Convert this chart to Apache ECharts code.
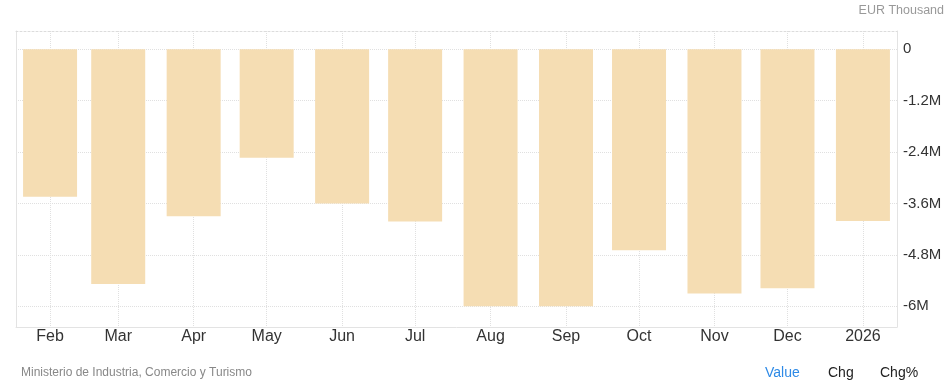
<!DOCTYPE html>
<html>
<head>
<meta charset="utf-8">
<script src="https://cdn.jsdelivr.net/npm/echarts@6/dist/echarts.min.js"></script>
<style>
html,body{margin:0;padding:0;background:#fff;}
#chart{width:952px;height:391px;}
</style>
</head>
<body>
<div id="chart"></div>
<script>
// Data (EUR Thousand)
const dates = ['2025-02-01','2025-03-01','2025-04-01','2025-05-01','2025-06-01','2025-07-01','2025-08-01','2025-09-01','2025-10-01','2025-11-01','2025-12-01','2026-01-01'];
const values = [-3440000,-5480000,-3900000,-2530000,-3600000,-4020000,-6000000,-6000000,-4690000,-5700000,-5580000,-4010000];
const monthNames = ['2026','Feb','Mar','Apr','May','Jun','Jul','Aug','Sep','Oct','Nov','Dec'];
const yTicks = [0,-1200000,-2400000,-3600000,-4800000,-6000000];
const unitLabel = 'EUR Thousand';
const sourceLabel = 'Ministerio de Industria, Comercio y Turismo';
const tabs = ['Value','Chg','Chg%'];

function toLocal(s){const p=s.split('-').map(Number);return new Date(p[0],p[1]-1,p[2]).getTime();}
const seriesData = dates.map((d,i)=>[toLocal(d), values[i]]);

const chart = echarts.init(document.getElementById('chart'));
const GRID_OUTER = {left:16, right:55, top:31, bottom:64};   // 31..327
const GRID_INNER = {left:16, right:55, top:49.3, bottom:84.7}; // 49.3..306.3 (0..-6M)
const pxPerUnit = (306.3-49.3)/6000000;
const outerMax = (49.3-31)/pxPerUnit;
const outerMin = -(327-49.3)/pxPerUnit;
const xMin = toLocal('2025-01-18'), xMax = toLocal('2026-01-15');
const FONT = 'Liberation Sans, Arial, sans-serif';

const fmtY = v => v===0 ? '0' : (v/1e6).toFixed(1).replace(/\.0$/,'')+'M';

chart.setOption({
  animation:false,
  grid:[
    Object.assign({containLabel:false}, GRID_OUTER),
    Object.assign({containLabel:false}, GRID_INNER)
  ],
  xAxis:[
    {
      type:'time', gridIndex:0, min:xMin, max:xMax,
      splitNumber:12, minInterval: 28*86400000,
      axisLine:{show:true, onZero:false, lineStyle:{color:'#e3e3e3', width:1}},
      axisTick:{show:false},
      splitLine:{show:true, lineStyle:{color:'#e0e0e0', type:'dotted', width:1}},
      axisLabel:{
        color:'#333', fontSize:16, fontFamily:FONT, margin:2,
        showMinLabel:false, showMaxLabel:false,
        formatter: v => { const d=new Date(v); if(d.getDate()!==1) return ''; return d.getMonth()===0 ? String(d.getFullYear()) : monthNames[d.getMonth()]; }
      }
    },
    {
      type:'time', gridIndex:0, position:'top', min:xMin, max:xMax,
      axisLine:{show:true, onZero:false, lineStyle:{color:'#dcdcdc', type:[2,2], width:1}},
      axisTick:{show:false}, axisLabel:{show:false}, splitLine:{show:false}
    },
    {
      type:'value', gridIndex:0, min:xMin, max:xMax, show:false
    },
    {
      type:'value', gridIndex:1, show:false
    }
  ],
  yAxis:[
    {
      type:'value', gridIndex:0, position:'left', min:outerMin, max:outerMax,
      axisLine:{show:true, onZero:false, lineStyle:{color:'#e3e3e3'}}, axisTick:{show:false},
      axisLabel:{show:false}, splitLine:{show:false}
    },
    {
      type:'value', gridIndex:0, position:'right', min:outerMin, max:outerMax,
      axisLine:{show:true, onZero:false, lineStyle:{color:'#e3e3e3'}}, axisTick:{show:false},
      axisLabel:{show:false}, splitLine:{show:false}
    },
    {
      type:'value', gridIndex:1, position:'right', min:yTicks[yTicks.length-1], max:yTicks[0], interval:1200000,
      axisLine:{show:false}, axisTick:{show:false},
      axisLabel:{color:'#333', fontSize:15, fontFamily:FONT, margin:6, formatter: fmtY},
      splitLine:{show:true, lineStyle:{color:'#e0e0e0', type:'dotted', width:1}}
    }
  ],
  series:[
    {
      type:'bar', xAxisIndex:2, yAxisIndex:0,
      data: seriesData, barWidth:54,
      itemStyle:{color:'#f5ddb3'},
      z:1
    }
  ],
  graphic:[
    {type:'text', right:8, top:4, style:{text:unitLabel, fill:'#999', fontSize:12.5, fontFamily:FONT}},
    {type:'text', left:21, top:367, style:{text:sourceLabel, fill:'#888', fontSize:12, fontFamily:FONT}},
    {type:'text', left:765, top:366, style:{text:tabs[0], fill:'#2e8ae6', fontSize:14, fontFamily:FONT}},
    {type:'text', left:828, top:366, style:{text:tabs[1], fill:'#222', fontSize:14, fontFamily:FONT}},
    {type:'text', left:880, top:366, style:{text:tabs[2], fill:'#222', fontSize:14, fontFamily:FONT}}
  ]
});
</script>
</body>
</html>
